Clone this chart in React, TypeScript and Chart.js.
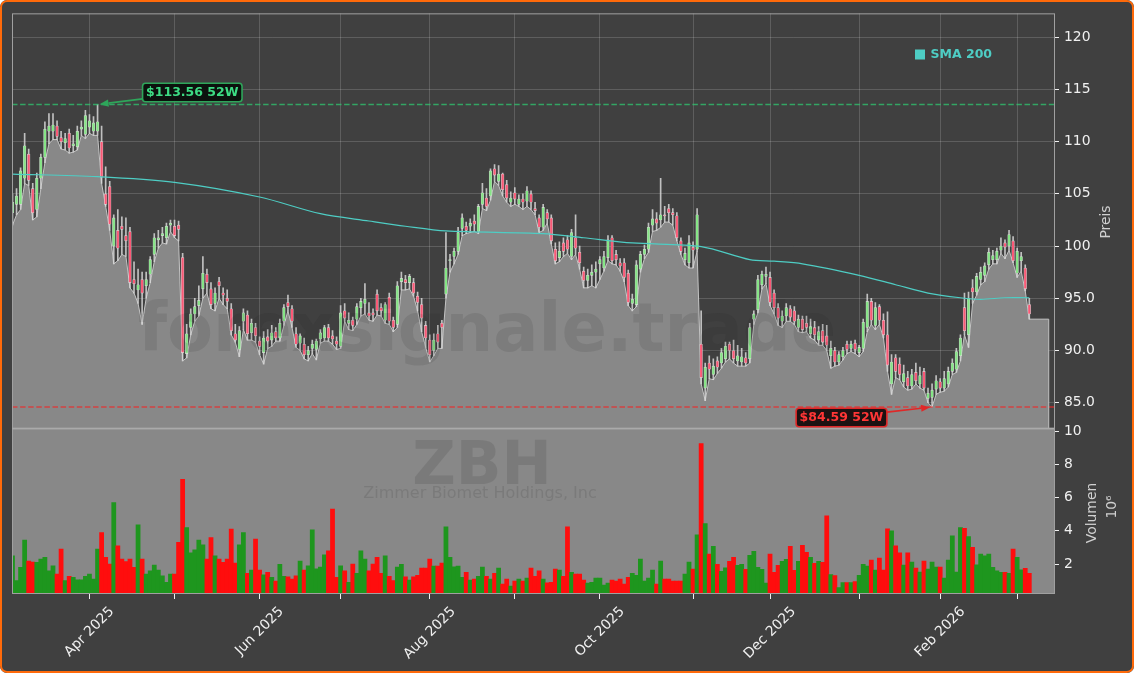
import React, { useEffect, useRef } from 'react';
import { Chart, registerables } from 'chart.js';

Chart.register(...registerables);

// ---------------- data ----------------
const TICKER = 'ZBH';
const COMPANY = 'Zimmer Biomet Holdings, Inc';
const WATERMARK = 'forexsignale.trade';
const START_DATE = '2025-03-05';
const HOLIDAYS = ['2025-04-18', '2025-05-26', '2025-06-19', '2025-07-04', '2025-09-01', '2025-11-27', '2025-12-25', '2026-01-01', '2026-01-19', '2026-02-16'];
// x axis runs over trading-day index
const X_MIN_IDX = -0.12;
const X_MAX_IDX = 257.1;
const AREA_END_IDX = 255.8;

const OPEN = [
  103.2, 104.0, 104.0, 106.5, 108.8, 105.5, 103.5, 106.5, 108.5, 111.0, 111.0, 111.5, 110.4, 109.9, 110.8, 109.6, 109.5, 111.2, 110.7,
  111.4, 111.0, 111.0, 110.0, 105.0, 105.7, 100.0, 101.5, 101.9, 101.0, 101.4, 96.8, 95.8, 96.8, 96.2, 97.3, 99.2, 100.6, 101.0, 100.8, 102.0,
  101.9, 102.0, 98.9, 89.7, 92.2, 93.5, 94.3, 95.9, 97.3, 95.9, 94.5, 96.6, 95.5, 95.0, 94.0, 91.6, 90.1, 92.8, 93.4, 91.7, 92.2,
  90.9, 89.8, 91.3, 91.0, 91.8, 91.2, 92.8, 94.6, 94.0, 91.6, 90.7, 90.6, 89.6, 90.2, 90.1, 91.1, 91.2, 92.2, 91.4, 90.9,
  90.4, 93.8, 92.6, 92.9, 93.0, 94.1, 94.5, 93.6, 93.6, 95.4, 94.1, 92.9, 95.1, 92.9, 92.5, 96.6, 96.8, 96.5, 96.5, 95.2, 94.4, 92.4,
  91.0, 90.0, 91.6, 92.6, 95.4, 98.6, 99.0, 99.5, 101.7, 101.9, 101.9, 102.4, 101.4, 104.0, 104.6, 104.8, 107.4, 106.2, 106.9, 105.9, 104.2,
  105.1, 104.0, 104.5, 104.3, 105.0, 103.6, 102.7, 101.8, 103.2, 102.7, 99.7, 98.9, 100.3, 100.6, 99.0, 100.8, 99.4, 97.6, 96.7, 97.2, 97.5,
  98.3, 97.9, 98.9, 100.8, 99.2, 98.4, 98.4, 97.4, 94.5, 94.4, 97.8, 99.2, 99.7, 102.0, 102.6, 102.5, 103.0, 103.6, 103.2, 102.9, 100.5, 98.7, 98.4,
  99.9, 99.7, 90.6, 86.4, 88.8, 87.7, 89.0, 88.8, 89.2, 90.6, 90.0, 89.0, 88.9, 89.3, 89.2, 93.0, 93.9, 96.3, 97.1,
  97.0, 95.5, 94.1, 92.8, 93.3, 94.0, 93.8, 92.2, 93.0, 92.6, 91.6, 92.2, 91.0, 91.9, 91.4, 89.5, 90.0, 88.9, 89.4, 90.6, 90.2, 90.7,
  89.8, 90.2, 92.2, 94.7, 92.4, 94.2, 92.9, 91.5, 86.8, 89.3, 88.7, 87.0, 87.4, 86.6, 87.9, 86.8, 88.0, 85.4, 85.5, 86.3,
  87.0, 86.4, 86.8, 88.0, 88.2, 89.5, 94.1, 91.5, 96.0, 95.6, 96.8, 97.2, 98.2, 98.7, 98.7, 99.6, 100.3, 100.0, 100.5,
  97.4, 98.6, 97.9, 94.4,
];
const HIGH = [
  105.0, 105.5, 107.5, 110.8, 109.3, 106.0, 107.0, 108.8, 111.9, 112.7, 112.7, 112.0, 111.0, 110.8, 111.2, 110.6, 111.5, 112.0, 113.0,
  112.6, 112.4, 113.56, 111.5, 107.6, 106.2, 103.0, 103.5, 102.8, 102.7, 101.8, 98.5, 97.8, 97.5, 97.5, 99.0, 101.2, 101.5, 101.8, 102.2, 102.5,
  102.5, 102.4, 99.3, 92.5, 94.0, 95.0, 96.2, 99.0, 97.8, 96.5, 96.0, 97.0, 96.0, 95.8, 94.5, 92.5, 92.3, 94.0, 93.8, 93.0, 92.6,
  91.3, 91.8, 92.0, 92.4, 92.2, 93.0, 94.4, 95.3, 94.3, 92.2, 91.6, 91.2, 90.4, 91.0, 91.1, 92.0, 92.4, 92.5, 91.9, 91.3,
  94.3, 94.5, 93.6, 93.2, 94.5, 95.0, 96.4, 94.6, 94.0, 95.8, 94.5, 94.6, 95.5, 93.2, 96.6, 97.5, 97.2, 97.3, 96.9, 95.6, 95.0, 92.8,
  91.5, 91.6, 92.4, 92.9, 101.3, 99.2, 99.8, 101.8, 103.1, 102.3, 102.6, 103.0, 104.0, 106.0, 105.5, 107.4, 107.8, 107.7, 107.0, 106.3, 105.2,
  105.6, 104.9, 105.0, 105.7, 105.3, 104.2, 103.0, 104.0, 103.5, 103.0, 100.3, 100.4, 100.8, 101.0, 101.6, 103.0, 100.0, 98.0, 97.8, 98.2, 98.5,
  99.0, 99.5, 101.0, 101.0, 99.6, 98.8, 98.8, 97.7, 95.4, 98.6, 99.5, 100.1, 102.2, 103.5, 103.2, 106.5, 103.8, 104.0, 103.6, 103.2, 100.8, 99.8, 101.0,
  100.4, 103.6, 93.8, 88.8, 89.5, 89.2, 89.4, 90.2, 90.8, 90.8, 91.0, 90.5, 90.2, 89.8, 92.6, 93.8, 97.2, 97.6, 98.0,
  97.5, 95.8, 94.5, 93.8, 94.5, 94.3, 94.2, 93.4, 93.3, 93.3, 93.0, 92.8, 92.3, 92.5, 92.4, 90.9, 90.3, 89.9, 90.3, 90.9, 90.9, 91.0,
  90.5, 93.0, 95.4, 95.0, 94.6, 94.4, 93.5, 93.7, 89.6, 89.6, 89.3, 88.6, 88.0, 88.2, 88.8, 88.4, 88.3, 86.4, 86.8, 87.6,
  87.3, 88.0, 88.4, 89.2, 90.2, 91.5, 95.5, 95.6, 96.8, 97.4, 98.0, 98.4, 99.8, 99.6, 99.8, 100.8, 100.6, 101.5, 100.9,
  99.8, 99.4, 98.2, 95.0,
];
const LOW = [
  102.0, 103.0, 103.5, 106.0, 105.8, 102.5, 102.8, 105.5, 108.0, 109.8, 110.2, 110.2, 109.3, 109.2, 108.9, 109.0, 109.2, 110.6, 110.3,
  110.8, 110.6, 110.6, 106.0, 103.8, 101.5, 98.3, 98.6, 99.2, 99.0, 96.0, 95.5, 94.5, 92.5, 95.0, 96.5, 98.5, 99.8, 100.3, 100.2, 101.4,
  100.8, 100.5, 89.0, 89.3, 91.5, 92.8, 93.3, 95.0, 95.5, 94.0, 93.8, 95.0, 94.4, 94.0, 91.5, 90.8, 89.4, 92.0, 91.0, 91.0, 90.8,
  89.6, 88.7, 90.2, 90.4, 90.9, 90.9, 92.4, 93.8, 92.2, 90.3, 90.0, 89.2, 89.0, 89.7, 89.1, 90.7, 90.9, 90.9, 90.6, 90.1,
  90.2, 92.8, 92.0, 91.9, 92.5, 93.3, 93.5, 92.9, 92.8, 93.4, 93.3, 92.6, 92.5, 91.8, 92.2, 95.8, 95.8, 95.9, 95.2, 93.8, 91.8, 90.3,
  88.9, 89.5, 90.2, 90.2, 95.0, 97.5, 98.3, 99.2, 101.0, 101.2, 101.3, 101.4, 101.2, 103.6, 103.4, 104.4, 106.2, 105.8, 104.8, 104.2, 103.8,
  104.0, 103.8, 103.5, 103.8, 103.5, 103.0, 101.3, 101.5, 102.2, 100.2, 98.3, 98.5, 99.0, 99.3, 98.7, 99.2, 97.8, 96.0, 96.0, 96.2, 96.0,
  96.8, 97.6, 98.6, 98.3, 98.2, 97.6, 96.6, 94.3, 93.8, 94.2, 97.5, 98.8, 99.4, 101.4, 101.5, 101.8, 102.3, 102.3, 102.0, 100.5, 99.2, 98.2, 97.9,
  97.9, 99.5, 86.8, 85.2, 87.3, 87.2, 87.8, 88.3, 88.9, 89.2, 88.8, 88.5, 88.5, 88.5, 88.8, 92.5, 93.6, 95.9, 96.4,
  94.3, 93.5, 92.4, 92.2, 92.8, 92.8, 92.5, 91.8, 91.7, 91.8, 91.2, 91.0, 90.5, 90.5, 90.0, 88.3, 88.5, 88.6, 89.1, 89.7, 89.9, 89.7,
  89.4, 89.9, 91.8, 92.5, 92.0, 92.5, 91.2, 88.0, 85.8, 87.4, 87.2, 86.5, 86.2, 86.3, 86.8, 86.4, 86.2, 85.0, 84.59, 85.8,
  86.0, 86.1, 86.5, 87.7, 87.9, 89.0, 91.5, 90.3, 94.5, 95.3, 96.3, 96.6, 97.8, 98.3, 98.3, 99.3, 98.8, 99.6, 98.4,
  97.0, 97.6, 95.7, 93.0,
];
const CLOSE = [
  104.2, 104.8, 107.2, 109.6, 106.3, 103.2, 106.5, 108.5, 111.2, 111.5, 111.6, 110.5, 110.0, 110.3, 109.4, 109.8, 111.0, 111.4, 112.5,
  112.0, 111.8, 111.9, 106.6, 104.0, 102.1, 102.7, 99.8, 101.6, 100.5, 96.5, 96.4, 96.3, 95.5, 96.8, 98.7, 100.8, 100.8, 101.2, 101.9, 102.2,
  101.0, 101.6, 89.8, 91.6, 93.5, 94.2, 94.8, 97.4, 96.5, 94.4, 95.5, 96.2, 95.3, 94.7, 91.9, 91.0, 91.9, 93.6, 91.6, 92.6, 91.4,
  90.4, 91.2, 90.9, 91.7, 91.2, 92.6, 94.1, 94.2, 92.8, 90.6, 91.4, 89.6, 90.0, 90.6, 90.9, 91.7, 92.2, 91.2, 91.1, 90.6,
  93.6, 93.1, 92.9, 92.4, 94.2, 94.7, 94.9, 93.3, 93.4, 93.8, 93.8, 94.4, 92.8, 92.2, 96.2, 96.9, 96.5, 97.1, 95.5, 94.6, 93.1, 91.2,
  89.6, 91.0, 90.8, 92.2, 97.9, 98.7, 99.5, 101.3, 102.7, 101.5, 102.2, 102.1, 103.8, 105.1, 103.8, 107.2, 106.8, 106.9, 105.4, 104.6, 104.6,
  104.5, 104.5, 104.2, 105.3, 104.2, 103.4, 101.8, 103.7, 102.6, 100.5, 98.6, 99.5, 99.5, 99.7, 101.3, 99.8, 98.4, 96.7, 97.2, 97.5, 97.8,
  98.7, 99.0, 100.6, 98.6, 98.7, 98.1, 97.0, 94.6, 94.9, 98.2, 99.2, 99.7, 101.8, 102.6, 102.2, 103.0, 102.9, 103.2, 103.0, 100.8, 99.5, 99.3, 100.3,
  99.6, 103.0, 87.4, 88.4, 88.2, 88.5, 88.4, 89.8, 90.4, 90.0, 89.2, 89.5, 89.4, 88.8, 92.2, 93.5, 96.8, 97.3, 97.3,
  94.6, 94.1, 93.1, 93.3, 94.1, 93.2, 92.8, 93.0, 92.0, 92.2, 92.3, 91.5, 91.8, 90.8, 90.5, 90.2, 88.9, 89.6, 90.0, 90.1, 90.6, 90.1,
  90.3, 92.7, 94.7, 92.9, 94.1, 92.9, 91.5, 88.6, 88.9, 88.0, 87.7, 87.8, 86.6, 87.7, 87.1, 87.6, 86.4, 85.9, 86.2, 87.1,
  86.4, 87.3, 88.0, 88.8, 89.9, 91.2, 91.9, 95.0, 95.6, 97.1, 97.5, 98.1, 99.4, 99.1, 99.5, 100.0, 99.9, 101.1, 98.6,
  99.5, 99.0, 95.9, 93.5,
];
// volume in millions
const VOLUME = [
  2.5, 1.0, 1.8, 3.45, 2.18, 2.12, 2.1, 2.3, 2.4, 1.6, 1.9, 1.4, 2.9, 1.0, 1.27, 1.2, 1.05, 1.05, 1.27,
  1.4, 1.1, 2.9, 3.9, 2.4, 2.0, 5.7, 3.1, 2.3, 2.15, 2.3, 1.8, 4.36, 2.3, 1.4, 1.6, 1.94, 1.64, 1.3, 0.9, 1.4,
  1.4, 3.3, 7.1, 4.2, 2.67, 2.85, 3.45, 3.15, 2.3, 3.6, 2.5, 2.3, 2.1, 2.3, 4.1, 2.06, 3.15, 3.9, 1.45, 1.64, 3.5,
  1.64, 1.35, 1.5, 1.2, 0.97, 1.98, 1.27, 1.23, 1.1, 1.3, 2.18, 1.64, 1.9, 4.06, 1.72, 1.82, 2.55, 2.8, 5.3, 1.2,
  1.9, 1.6, 0.9, 2.0, 1.45, 2.8, 2.3, 1.6, 2.0, 2.4, 1.45, 2.5, 1.27, 1.0, 1.82, 1.98, 1.23, 1.03, 1.23, 1.33, 1.76, 1.76,
  2.3, 1.88, 1.88, 2.06, 4.24, 2.4, 1.84, 1.88, 1.2, 1.5, 1.03, 1.09, 1.27, 1.82, 1.27, 1.09, 1.45, 1.76, 0.79, 1.09, 0.67,
  0.97, 1.09, 0.97, 1.15, 1.76, 1.27, 1.6, 1.09, 0.87, 0.9, 1.7, 1.64, 1.27, 4.24, 1.5, 1.4, 1.4, 1.03, 0.85, 0.9, 1.15,
  1.15, 0.73, 0.85, 1.03, 0.97, 1.09, 0.79, 1.2, 1.45, 1.33, 2.3, 0.97, 1.15, 1.64, 0.79, 2.18, 1.09, 1.09, 0.97, 0.97, 0.97, 1.4, 2.12,
  1.7, 3.76, 9.25, 4.44, 2.6, 3.07, 1.98, 1.57, 1.78, 2.16, 2.4, 1.92, 1.98, 1.68, 2.52, 2.77, 1.8, 1.68, 0.85,
  2.6, 1.5, 1.92, 2.16, 2.28, 3.07, 1.62, 2.16, 3.13, 2.7, 2.4, 2.04, 2.16, 2.1, 4.9, 1.37, 1.31, 0.58, 0.89, 0.89, 0.89, 0.95,
  1.33, 1.98, 1.88, 2.24, 1.64, 2.36, 1.64, 4.12, 4.0, 3.09, 2.67, 1.94, 2.67, 2.12, 1.76, 1.52, 2.18, 1.7, 2.12, 1.82,
  1.82, 1.15, 2.24, 3.7, 1.52, 4.2, 4.15, 3.65, 3.0, 1.95, 2.6, 2.5, 2.6, 1.8, 1.6, 1.5, 1.5, 1.45, 2.9,
  2.4, 1.65, 1.75, 1.45,
];
// SMA 200 read at selected trading-day indices
const SMA_IDX = [0, 21, 40, 61, 76, 88, 97, 107, 131, 141, 153, 170, 182, 188, 195, 209, 218, 226, 234, 239, 245, 251];
const SMA_VAL = [106.9, 106.65, 106.1, 104.7, 103.1, 102.4, 101.9, 101.45, 101.2, 100.8, 100.3, 99.95, 98.7, 98.55, 98.3, 97.2, 96.3, 95.5, 95.05, 94.9, 95.05, 95.05];

const HIGH_52W = 113.56;
const LOW_52W = 84.59;
const PRICE_TICKS = [85, 90, 95, 100, 105, 110, 115, 120];
const VOL_TICKS = [2, 4, 6, 8, 10];
const MONTH_LABELS = ['Apr 2025', '', 'Jun 2025', '', 'Aug 2025', '', 'Oct 2025', '', 'Dec 2025', '', 'Feb 2026', ''];

// ---------------- helpers ----------------
const FONT = '"DejaVu Sans", "Liberation Sans", sans-serif';

function dayNum(s: string): number {
  const [y, m, d] = s.split('-').map(Number);
  return Date.UTC(y, m - 1, d) / 86400000;
}

function tradingDays(start: string, n: number, holidays: string[]): number[] {
  const hol = new Set(holidays.map(dayNum));
  const out: number[] = [];
  let d = dayNum(start);
  while (out.length < n) {
    const wd = new Date(d * 86400000).getUTCDay();
    if (wd !== 0 && wd !== 6 && !hol.has(d)) out.push(d);
    d++;
  }
  return out;
}

const DATES = tradingDays(START_DATE, CLOSE.length, HOLIDAYS);
const monthOf = (d: number) => new Date(d * 86400000).getUTCMonth();
// first trading day of each month -> tick positions (trading-day index)
const MONTH_START_IDX = DATES.map((_, i) => i).filter((i) => i > 0 && monthOf(DATES[i]) !== monthOf(DATES[i - 1]));

function drawArrow(ctx: CanvasRenderingContext2D, x1: number, y1: number, x2: number, y2: number, color: string) {
  const ang = Math.atan2(y2 - y1, x2 - x1);
  const hl = 9, hw = 3.6;
  const bx = x2 - hl * Math.cos(ang), by = y2 - hl * Math.sin(ang);
  ctx.strokeStyle = color;
  ctx.fillStyle = color;
  ctx.lineWidth = 1.7;
  ctx.beginPath();
  ctx.moveTo(x1, y1);
  ctx.lineTo(bx, by);
  ctx.stroke();
  ctx.beginPath();
  ctx.moveTo(x2, y2);
  ctx.lineTo(bx + hw * Math.sin(ang), by - hw * Math.cos(ang));
  ctx.lineTo(bx - hw * Math.sin(ang), by + hw * Math.cos(ang));
  ctx.closePath();
  ctx.fill();
}

function annotate(ctx: CanvasRenderingContext2D, text: string, px: number, py: number, dx: number, dy: number, c: { text: string; line: string; bg: string }) {
  ctx.font = `bold 12.5px ${FONT}`;
  const w = ctx.measureText(text).width + 7;
  const h = 18.5;
  const cx = px + dx, cy = py + dy;
  const ddx = px - cx, ddy = py - cy;
  const len = Math.hypot(ddx, ddy);
  // arrow tip stops 2px short of the point
  const tx = px - (ddx / len) * 2, ty = py - (ddy / len) * 2;
  const s = Math.min(w / 2 / Math.max(Math.abs(ddx), 1e-6), h / 2 / Math.max(Math.abs(ddy), 1e-6));
  drawArrow(ctx, cx + ddx * s, cy + ddy * s, tx, ty, c.line);
  ctx.beginPath();
  if ((ctx as any).roundRect) (ctx as any).roundRect(cx - w / 2, cy - h / 2, w, h, 3);
  else ctx.rect(cx - w / 2, cy - h / 2, w, h);
  ctx.fillStyle = c.bg;
  ctx.fill();
  ctx.lineWidth = 1.6;
  ctx.strokeStyle = c.line;
  ctx.stroke();
  ctx.fillStyle = c.text;
  ctx.textAlign = 'center';
  ctx.textBaseline = 'middle';
  ctx.fillText(text, cx, cy + 0.5);
}

const decorPlugin = {
  id: 'decor',
  beforeDatasetsDraw(chart: any) {
    const { ctx, chartArea: ca, scales } = chart;
    const yv = scales.yv;
    ctx.save();
    ctx.fillStyle = '#888888';
    ctx.fillRect(ca.left, yv.top, ca.right - ca.left, yv.bottom - yv.top);
    ctx.restore();
  },
  afterDatasetsDraw(chart: any) {
    const { ctx, chartArea: ca, scales } = chart;
    const { x, y, yv } = scales;
    ctx.save();
    // watermarks
    ctx.fillStyle = 'rgba(30,30,30,0.11)';
    ctx.textAlign = 'center';
    ctx.textBaseline = 'alphabetic';
    ctx.font = `bold 67px ${FONT}`;
    ctx.fillText(WATERMARK, 487, 351);
    ctx.fillStyle = 'rgba(30,30,30,0.13)';
    ctx.font = `bold 60px ${FONT}`;
    ctx.fillText(TICKER, 482, 484);
    ctx.font = `16px ${FONT}`;
    ctx.fillText(COMPANY, 480, 498);

    // right edge of the area
    const lastLow = LOW[LOW.length - 1];
    const ex = x.getPixelForValue(AREA_END_IDX);
    ctx.strokeStyle = '#c4c4c4';
    ctx.lineWidth = 1;
    ctx.beginPath();
    ctx.moveTo(ex, y.getPixelForValue(lastLow));
    ctx.lineTo(ex, y.bottom);
    ctx.stroke();

    // frames
    ctx.strokeStyle = '#a0a0a0';
    ctx.lineWidth = 1;
    ctx.strokeRect(ca.left + 0.5, y.top + 0.5, ca.right - ca.left, y.bottom - y.top);
    ctx.strokeRect(ca.left + 0.5, yv.top, ca.right - ca.left, yv.bottom - yv.top - 0.5);
    ctx.strokeStyle = '#aaaaaa';
    ctx.lineWidth = 1.5;
    ctx.beginPath();
    ctx.moveTo(ca.left, yv.top);
    ctx.lineTo(ca.right, yv.top);
    ctx.stroke();

    // 52W annotations
    let hiIdx = 0, loIdx = 0;
    HIGH.forEach((v, i) => { if (v > HIGH[hiIdx]) hiIdx = i; });
    LOW.forEach((v, i) => { if (v < LOW[loIdx]) loIdx = i; });
    const hx = x.getPixelForValue(hiIdx), hy = y.getPixelForValue(HIGH_52W);
    const lx = x.getPixelForValue(loIdx), ly = y.getPixelForValue(LOW_52W);
    annotate(ctx, `$${HIGH_52W.toFixed(2)} 52W`, hx, hy, 192.3 - hx, -12,
      { text: '#3ddc84', line: '#2ea65a', bg: 'rgba(8,14,10,0.92)' });
    annotate(ctx, `$${LOW_52W.toFixed(2)} 52W`, lx, ly, 841.5 - lx, 10.5,
      { text: '#ff3636', line: '#e02828', bg: 'rgba(20,8,8,0.92)' });
    ctx.restore();
  },
  afterDraw(chart: any) {
    const { ctx, chartArea: ca, scales } = chart;
    const { x } = scales;
    ctx.save();
    // legend
    ctx.fillStyle = '#4ecdc4';
    ctx.fillRect(915, 49.5, 10, 10);
    ctx.font = `bold 12.5px ${FONT}`;
    ctx.textAlign = 'left';
    ctx.textBaseline = 'middle';
    ctx.fillText('SMA 200', 930.5, 54.5);

    // axis titles
    ctx.fillStyle = '#d0d0d0';
    ctx.font = `13.9px ${FONT}`;
    ctx.textAlign = 'center';
    ctx.textBaseline = 'middle';
    const vtext = (t: string, cx: number, cy: number) => {
      ctx.save();
      ctx.translate(cx, cy);
      ctx.rotate(-Math.PI / 2);
      ctx.fillText(t, 0, 0);
      ctx.restore();
    };
    vtext('Preis', 1106, 222);
    vtext('Volumen', 1092.5, 513);
    vtext('10\u2076', 1112.5, 507);

    // x tick labels, rotated 45deg, centred on tick
    ctx.fillStyle = '#f0f0f0';
    ctx.font = `13.9px ${FONT}`;
    MONTH_START_IDX.forEach((idx, i) => {
      const lab = MONTH_LABELS[i];
      if (!lab) return;
      const px = x.getPixelForValue(idx);
      const w = ctx.measureText(lab).width;
      const half = (w + 16.2) * Math.SQRT1_2 / 2;
      ctx.save();
      ctx.translate(px, ca.bottom + 9.7 + half);
      ctx.rotate(-Math.PI / 4);
      ctx.fillText(lab, 0, 0);
      ctx.restore();
    });
    ctx.restore();
  },
};

export default function App() {
  const ref = useRef<HTMLCanvasElement | null>(null);

  useEffect(() => {
    const canvas = ref.current;
    if (!canvas) return;
    const up = CLOSE.map((c, i) => c >= OPEN[i]);

    const tickFont = { family: FONT, size: 13.9 };
    const chart = new Chart(canvas, {
      type: 'bar',
      data: {
        datasets: [
          {
            type: 'line',
            label: 'low',
            data: [...LOW.map((v, i) => ({ x: i, y: v })), { x: AREA_END_IDX, y: LOW[LOW.length - 1] }],
            yAxisID: 'y',
            fill: 'start',
            backgroundColor: '#888888',
            borderColor: '#c4c4c4',
            borderWidth: 1,
            pointRadius: 0,
            tension: 0,
            order: 10,
          } as any,
          {
            type: 'bar',
            label: 'wick',
            data: LOW.map((v, i) => ({ x: i, y: [v, HIGH[i]] })),
            yAxisID: 'y',
            backgroundColor: 'rgba(215,215,215,0.85)',
            barThickness: 1,
            grouped: false,
            order: 8,
          } as any,
          {
            type: 'bar',
            label: 'body',
            data: OPEN.map((v, i) => ({ x: i, y: [v, CLOSE[i]] })),
            yAxisID: 'y',
            backgroundColor: up.map((u) => (u ? 'rgba(128,232,128,0.92)' : 'rgba(255,80,112,0.92)')),
            borderColor: 'rgba(235,235,235,0.75)',
            borderWidth: 0.6,
            borderSkipped: false,
            minBarLength: 1,
            barThickness: 2.7,
            grouped: false,
            order: 7,
          } as any,
          {
            type: 'line',
            label: 'SMA 200',
            data: SMA_IDX.map((k, j) => ({ x: k, y: SMA_VAL[j] })),
            yAxisID: 'y',
            borderColor: '#4ecdc4',
            borderWidth: 1.2,
            pointRadius: 0,
            tension: 0.3,
            fill: false,
            order: 6,
          } as any,
          {
            type: 'line',
            label: 'hi',
            data: [{ x: X_MIN_IDX, y: HIGH_52W }, { x: X_MAX_IDX, y: HIGH_52W }],
            yAxisID: 'y',
            borderColor: 'rgba(46,204,113,0.72)',
            borderWidth: 1.6,
            borderDash: [5.5, 2.6],
            pointRadius: 0,
            fill: false,
            order: 2,
          } as any,
          {
            type: 'line',
            label: 'lo',
            data: [{ x: X_MIN_IDX, y: LOW_52W }, { x: X_MAX_IDX, y: LOW_52W }],
            yAxisID: 'y',
            borderColor: 'rgba(240,40,40,0.72)',
            borderWidth: 1.6,
            borderDash: [5.5, 2.6],
            pointRadius: 0,
            fill: false,
            order: 2,
          } as any,
          {
            type: 'bar',
            label: 'vol',
            data: VOLUME.map((v, i) => ({ x: i, y: v })),
            yAxisID: 'yv',
            backgroundColor: up.map((u) => (u ? '#1e961e' : '#ff0d0d')),
            barThickness: 4.1,
            grouped: false,
            order: 9,
          } as any,
        ],
      },
      options: {
        responsive: false,
        maintainAspectRatio: false,
        animation: false,
        devicePixelRatio: 1,
        events: [],
        layout: { padding: { left: 12, top: 12, right: 0, bottom: 0 } },
        plugins: { legend: { display: false }, tooltip: { enabled: false } },
        scales: {
          x: {
            type: 'linear',
            position: 'bottom',
            offset: false,
            min: X_MIN_IDX,
            max: X_MAX_IDX,
            border: { display: false },
            grid: { offset: false, color: 'rgba(255,255,255,0.16)', lineWidth: 1, drawTicks: true, tickLength: 5, tickColor: '#f0f0f0', tickWidth: 1 },
            ticks: { display: false },
            afterBuildTicks: (s: any) => { s.ticks = MONTH_START_IDX.map((v) => ({ value: v })); },
            afterFit: (s: any) => { s.height = 79; },
          },
          y: {
            type: 'linear',
            position: 'right',
            stack: 'panels',
            stackWeight: 416,
            min: 82.54,
            max: 122.29,
            border: { display: false },
            grid: { color: 'rgba(255,255,255,0.16)', lineWidth: 1, drawTicks: true, tickLength: 5, tickColor: '#f0f0f0' },
            ticks: { color: '#f0f0f0', font: tickFont, padding: 5, callback: (v: any) => (v < 100 ? Number(v).toFixed(1) : String(v)) },
            afterBuildTicks: (s: any) => { s.ticks = PRICE_TICKS.map((v) => ({ value: v })); },
            afterFit: (s: any) => { s.width = 80; },
          },
          yv: {
            type: 'linear',
            position: 'right',
            stack: 'panels',
            stackWeight: 166,
            min: 0.2,
            max: 10.16,
            border: { display: false },
            grid: { drawOnChartArea: false, drawTicks: true, tickLength: 5, tickColor: '#f0f0f0' },
            ticks: { color: '#f0f0f0', font: tickFont, padding: 5, callback: (v: any) => String(v) },
            afterBuildTicks: (s: any) => { s.ticks = VOL_TICKS.map((v) => ({ value: v })); },
            afterFit: (s: any) => { s.width = 80; },
          },
        },
      } as any,
      plugins: [decorPlugin as any],
    });

    return () => chart.destroy();
  }, []);

  return (
    <div style={{ position: 'fixed', left: 0, top: 0, width: 1134, height: 673, background: '#404040', borderRadius: 7, overflow: 'hidden' }}>
      <canvas ref={ref} width={1134} height={673} style={{ display: 'block', width: 1134, height: 673 }} />
      <div style={{ position: 'absolute', left: 0, top: 0, width: 1134, height: 673, boxSizing: 'border-box', border: '2.5px solid #ff6a0a', borderRadius: 7, pointerEvents: 'none' }} />
    </div>
  );
}
